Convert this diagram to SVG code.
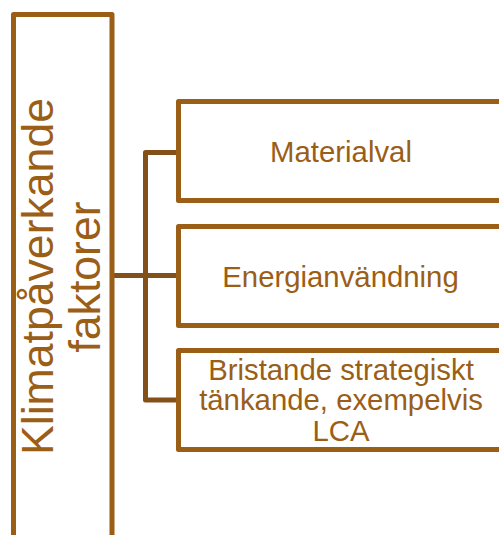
<svg xmlns="http://www.w3.org/2000/svg" width="499" height="535" viewBox="0 0 499 535">
<style>
.box{fill:#ffffff;stroke:#9A5E16;stroke-width:5;stroke-linejoin:round}
.conn{fill:none;stroke:#84501A;stroke-width:5;stroke-linejoin:round}
.t{font-family:"Liberation Sans",Arial,sans-serif;fill:#9A5E16;text-anchor:middle}
.s{font-size:29.33px}
.b{font-size:44.6px}
</style>
<rect width="499" height="535" fill="#ffffff"/>
<g id="connectors">
<path class="conn" d="M112,275.5 H178.5"/>
<path class="conn" d="M178.5,152.5 H145.5 V400 H178.5"/>
</g>
<g id="node-root">
<rect class="box" x="13.5" y="14.5" width="98.5" height="530"/>
<text class="t b" transform="translate(53,276.5) rotate(-90)">Klimatpåverkande</text>
<text class="t b" transform="translate(100,277) rotate(-90)">faktorer</text>
</g>
<g id="node-materialval">
<rect class="box" x="178.5" y="101.5" width="330" height="99"/>
<text class="t s" x="341" y="161.5">Materialval</text>
</g>
<g id="node-energi">
<rect class="box" x="178.5" y="226.5" width="330" height="99"/>
<text class="t s" x="340.5" y="286.5">Energianvändning</text>
</g>
<g id="node-bristande">
<rect class="box" x="178.5" y="350.5" width="330" height="99"/>
<text class="t s" x="341" y="379.5">Bristande strategiskt</text>
<text class="t s" x="341" y="410">tänkande, exempelvis</text>
<text class="t s" x="341" y="440.5">LCA</text>
</g>
</svg>
